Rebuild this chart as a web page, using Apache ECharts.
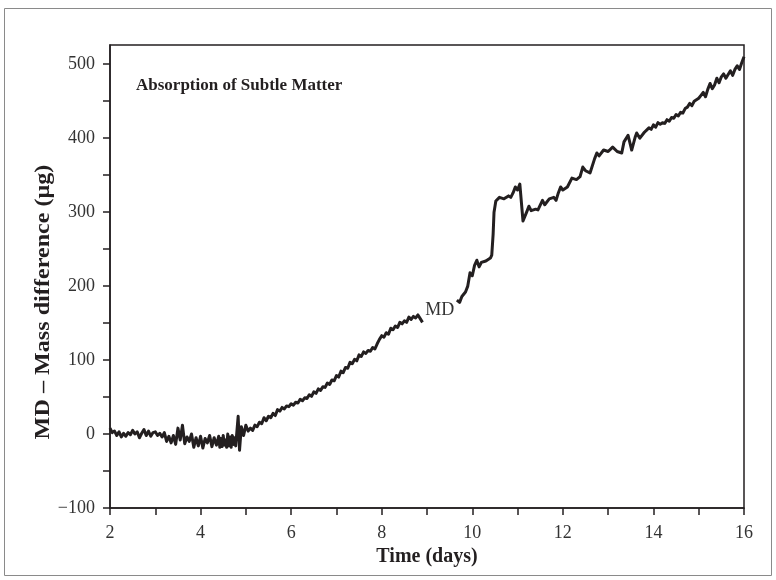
<!DOCTYPE html>
<html>
<head>
<meta charset="utf-8">
<script src="https://cdn.jsdelivr.net/npm/echarts@6/dist/echarts.min.js"></script>
<style>
  html, body { margin: 0; padding: 0; background: #fff; }
  #chart { width: 776px; height: 580px; }
</style>
</head>
<body>
<div id="chart"></div>
<script>
  // time axis (days) and measured mass difference (µg), read off the figure
  // null marks the gap in the record around the "MD" label
  const days = [
    2.00, 2.05, 2.10, 2.15, 2.20, 2.25, 2.30, 2.35, 2.40, 2.45,
    2.50, 2.55, 2.60, 2.65, 2.70, 2.75, 2.80, 2.85, 2.90, 2.95,
    3.00, 3.05, 3.10, 3.15, 3.20, 3.25, 3.30, 3.35, 3.40, 3.45,
    3.50, 3.55, 3.60, 3.65, 3.70, 3.75, 3.80, 3.85, 3.90, 3.95,
    4.00, 4.05, 4.10, 4.15, 4.20, 4.25, 4.30, 4.35, 4.40, 4.425,
    4.45, 4.475, 4.50, 4.525, 4.55, 4.575, 4.60, 4.625, 4.65, 4.675,
    4.70, 4.725, 4.75, 4.775, 4.80, 4.83, 4.86, 4.90,
    4.95, 5.00, 5.05, 5.10, 5.15, 5.20, 5.25, 5.30, 5.35, 5.40,
    5.45, 5.50, 5.55, 5.60, 5.65, 5.70, 5.75, 5.80, 5.85, 5.90,
    5.95, 6.00, 6.05, 6.10, 6.15, 6.20, 6.25, 6.30, 6.35, 6.40,
    6.45, 6.50, 6.55, 6.60, 6.65, 6.70, 6.75, 6.80, 6.85, 6.90,
    6.95, 7.00, 7.05, 7.10, 7.15, 7.20, 7.25, 7.30, 7.35, 7.40,
    7.45, 7.50, 7.55, 7.60, 7.65, 7.70, 7.75, 7.80, 7.85, 7.90,
    7.95, 8.00, 8.05, 8.10, 8.15, 8.20, 8.25, 8.30, 8.35, 8.40,
    8.45, 8.50, 8.55, 8.60, 8.65, 8.70, 8.75, 8.80, 8.85, 8.90,
    9.30,
    9.66, 9.72, 9.77, 9.85, 9.90, 9.95, 10.00, 10.05, 10.10, 10.15,
    10.20, 10.30, 10.40, 10.43, 10.46, 10.48, 10.52, 10.60, 10.70, 10.80,
    10.85, 10.90, 10.95, 11.00, 11.05, 11.08, 11.12, 11.20, 11.25, 11.30,
    11.40, 11.45, 11.55, 11.60, 11.70, 11.80, 11.85, 11.90, 11.95, 12.00,
    12.10, 12.20, 12.30, 12.38, 12.44, 12.50, 12.60, 12.70, 12.75, 12.80,
    12.90, 13.00, 13.10, 13.20, 13.30, 13.35, 13.44, 13.52, 13.60, 13.63,
    13.70, 13.80, 13.85, 13.90, 13.95, 14.00, 14.05, 14.10, 14.15, 14.20,
    14.25, 14.30, 14.35, 14.40, 14.45, 14.50, 14.55, 14.60, 14.65, 14.70,
    14.75, 14.80, 14.85, 14.90, 14.95, 15.00, 15.05, 15.10, 15.15, 15.20,
    15.25, 15.30, 15.35, 15.40, 15.45, 15.50, 15.55, 15.60, 15.65, 15.70,
    15.75, 15.80, 15.85, 15.90, 15.95, 16.00
  ]
  const mass = [
    8, 2, 4, -2, 3, -4, 1, -3, 2, -1,
    5, 0, 3, -5, 1, 6, -2, 4, -3, 2,
    3, -2, 1, -4, 2, -10, -3, -12, -2, -14,
    8, -8, 12, -13, -4, -10, 0, -18, -5, -16,
    -3, -19, -6, -12, -2, -17, -5, -15, -3, -18,
    -6, -17, -2, -15, -8, -18, 0, -16, -4, -18,
    -2, -14, -5, -16, 2, 24, -22, 10,
    -2, 12, 4, 8, 5, 12, 10, 16, 14, 22,
    18, 24, 22, 28, 25, 33, 31, 36, 34, 38,
    37, 41, 39, 43, 42, 47, 45, 49, 48, 53,
    51, 57, 55, 61, 59, 64, 63, 69, 67, 73,
    72, 79, 77, 85, 83, 90, 89, 97, 95, 101,
    99, 107, 105, 111, 109, 113, 112, 117, 115, 122,
    128, 133, 131, 137, 135, 143, 141, 146, 144, 151,
    149, 153, 151, 158, 155, 159, 157, 161, 156, 151,
    null,
    181, 178, 186, 192, 200, 218, 214, 228, 235, 226,
    232, 234, 238, 242, 270, 300, 315, 320, 318, 322,
    320, 326, 334, 330, 338, 336, 288, 300, 308, 302,
    304, 303, 316, 310, 318, 320, 316, 326, 334, 330,
    334, 346, 344, 348, 361, 356, 353, 372, 380, 376,
    384, 382, 388, 382, 380, 395, 404, 384, 402, 407,
    400, 408, 411, 414, 412, 418, 415, 421, 419, 421,
    420, 425, 423, 428, 427, 432, 430, 435, 434, 440,
    442, 447, 444, 450, 452, 454, 458, 462, 456, 466,
    474, 467, 472, 481, 475, 483, 487, 481, 486, 491,
    485, 493, 498, 493, 502, 510
  ]
  const xTicks = [2, 3, 4, 5, 6, 7, 8, 9, 10, 11, 12, 13, 14, 15, 16]
  const xLabels = [2, 4, 6, 8, 10, 12, 14, 16]
  const yTicks = [-100, -50, 0, 50, 100, 150, 200, 250, 300, 350, 400, 450, 500]
  const yLabels = [-100, 0, 100, 200, 300, 400, 500]
  const mdLabelAt = [9.28, 168]

  const serif = '"Liberation Serif", "DejaVu Serif", serif'
  const ink = '#231f20'

  const chart = echarts.init(document.getElementById('chart'), null, { renderer: 'canvas' })

  const option = {
    backgroundColor: '#fff',
    animation: false,
    title: {
      text: 'Absorption of Subtle Matter',
      left: 131,
      top: 72,
      textStyle: { fontFamily: serif, fontWeight: 'bold', fontSize: 17, color: ink }
    },
    grid: {
      left: 110, right: 32, top: 45, bottom: 72,
      show: true, borderColor: ink, borderWidth: 1.5
    },
    xAxis: {
      type: 'value',
      min: 2, max: 16,
      name: 'Time (days)',
      nameLocation: 'middle',
      nameGap: 30,
      nameTextStyle: { fontFamily: serif, fontWeight: 'bold', fontSize: 20, color: ink },
      axisLine: { show: true, onZero: false, lineStyle: { color: ink, width: 1.5 } },
      axisTick: { show: true, length: 7, customValues: xTicks, lineStyle: { color: ink, width: 1.5 } },
      axisLabel: { customValues: xLabels, margin: 16, fontFamily: serif, fontSize: 18, color: '#333' },
      splitLine: { show: false }
    },
    yAxis: {
      type: 'value',
      min: -100, max: 526,
      axisLine: { show: true, onZero: false, lineStyle: { color: ink, width: 1.5 } },
      axisTick: { show: true, length: 7, customValues: yTicks, lineStyle: { color: ink, width: 1.5 } },
      axisLabel: {
        customValues: yLabels,
        margin: 15,
        fontFamily: serif,
        fontSize: 18,
        color: '#333',
        formatter: v => String(v).replace('-', '\u2212')
      },
      splitLine: { show: false }
    },
    graphic: [
      {
        type: 'rect',
        shape: { x: 4.5, y: 8.5, width: 767, height: 567 },
        style: { fill: null, stroke: '#8a8a8a', lineWidth: 1 },
        silent: true
      },
      {
        type: 'text',
        x: 44, y: 302,
        rotation: Math.PI / 2,
        scaleX: 1.15,
        style: {
          text: 'MD \u2013 Mass difference (\u03bcg)',
          font: 'bold 21px ' + serif,
          fill: ink,
          align: 'center',
          verticalAlign: 'middle'
        }
      }
    ],
    series: [
      {
        type: 'line',
        data: days.map((d, i) => [d, mass[i]]),
        showSymbol: false,
        connectNulls: false,
        lineStyle: { color: ink, width: 3, join: 'round' },
        markPoint: {
          symbol: 'circle',
          symbolSize: 0,
          silent: true,
          label: {
            show: true,
            position: 'inside',
            formatter: 'MD',
            fontFamily: serif,
            fontSize: 18,
            color: '#333'
          },
          data: [{ coord: mdLabelAt }]
        }
      }
    ]
  }

  chart.setOption(option)
</script>
</body>
</html>
